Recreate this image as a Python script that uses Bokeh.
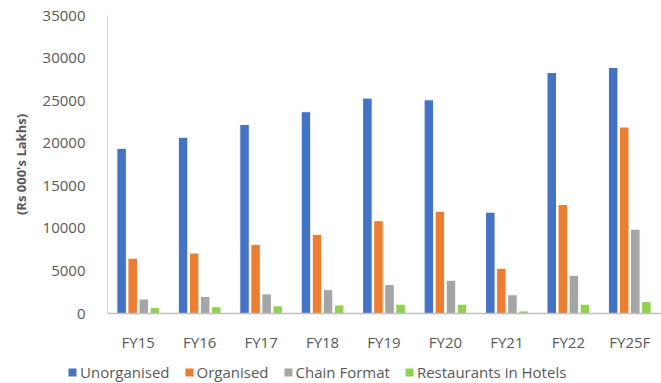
from bokeh.plotting import figure
from bokeh.models import ColumnDataSource, FactorRange, Legend, LegendItem, Range1d
from bokeh.layouts import column
from bokeh.transform import dodge
from bokeh.embed import file_html
from bokeh.resources import INLINE

categories = ["FY15", "FY16", "FY17", "FY18", "FY19", "FY20", "FY21", "FY22", "FY25F"]
unorganised = [19400, 20700, 22200, 23700, 25300, 25100, 11900, 28300, 28900]
organised = [6500, 7100, 8100, 9300, 10900, 12000, 5300, 12800, 21900]
chain_format = [1700, 2000, 2300, 2800, 3400, 3900, 2200, 4500, 9900]
restaurants_in_hotels = [700, 800, 900, 1000, 1100, 1100, 300, 1100, 1400]
series_names = ["Unorganised", "Organised", "Chain Format", "Restaurants in Hotels"]
y_ticks = [0, 5000, 10000, 15000, 20000, 25000, 30000, 35000]

colors = ["#4472C4", "#ED7D31", "#A5A5A5", "#92D050"]
FONT = "Open Sans"
TXT = "#595959"

src = ColumnDataSource(dict(cat=categories, s0=unorganised, s1=organised,
                            s2=chain_format, s3=restaurants_in_hotels))

p = figure(x_range=FactorRange(*categories, range_padding=0), y_range=Range1d(0, 35000),
           frame_width=553, frame_height=298, output_backend="svg", toolbar_location=None,
           min_border_left=107, min_border_right=1, min_border_top=15, min_border_bottom=45)

offsets = [-0.27, -0.09, 0.09, 0.27]
for i, off in enumerate(offsets):
    p.vbar(x=dodge("cat", off, range=p.x_range), top="s%d" % i, width=0.155,
           source=src, fill_color=colors[i], line_color="white", line_width=1)

p.outline_line_color = None
p.xgrid.grid_line_color = None
p.ygrid.grid_line_color = None
p.background_fill_color = "white"
p.border_fill_color = "white"

p.yaxis.ticker = y_ticks
p.yaxis.axis_line_color = "#d0d0d0"
p.yaxis.major_tick_line_color = None
p.yaxis.minor_tick_line_color = None
p.yaxis.major_label_text_font = FONT
p.yaxis.major_label_text_font_size = "15px"
p.yaxis.major_label_text_color = TXT
p.yaxis.major_label_standoff = 16
p.yaxis.axis_label = "(Rs 000's Lakhs)"
p.yaxis.axis_label_text_font = FONT
p.yaxis.axis_label_text_font_size = "13px"
p.yaxis.axis_label_text_font_style = "bold"
p.yaxis.axis_label_text_color = TXT
p.yaxis.axis_label_standoff = 10

p.xaxis.axis_line_color = "#c0c0c0"
p.xaxis.axis_line_width = 1.5
p.xaxis.major_tick_line_color = None
p.xaxis.minor_tick_line_color = None
p.xaxis.major_label_text_font = FONT
p.xaxis.major_label_text_font_size = "15px"
p.xaxis.major_label_text_color = TXT
p.xaxis.major_label_standoff = 12

# Legend strip (separate small figure below the chart)
lf = figure(frame_width=661, frame_height=25, output_backend="svg", toolbar_location=None,
            x_range=Range1d(0, 1), y_range=Range1d(0, 1), x_axis_type=None, y_axis_type=None,
            min_border=0)
lf.outline_line_color = None
lf.border_fill_color = "white"
lf.background_fill_color = "white"
leg_renderers = []
for i in range(4):
    r = lf.vbar(x=[0.5], top=[float("nan")], width=0.1, fill_color=colors[i], line_color=None)
    leg_renderers.append(r)
items = [LegendItem(label=series_names[i], renderers=[leg_renderers[i]]) for i in range(4)]
legend = Legend(items=items, orientation="horizontal", location=(67, 1),
                label_text_font=FONT, label_text_font_size="15px", label_text_color=TXT,
                glyph_width=10, glyph_height=10, label_standoff=3, spacing=14,
                padding=0, margin=0, border_line_color=None, background_fill_alpha=0)
lf.add_layout(legend, "center")

layout = column(p, lf, spacing=0)
open("out.html", "w").write(file_html(layout, INLINE))
